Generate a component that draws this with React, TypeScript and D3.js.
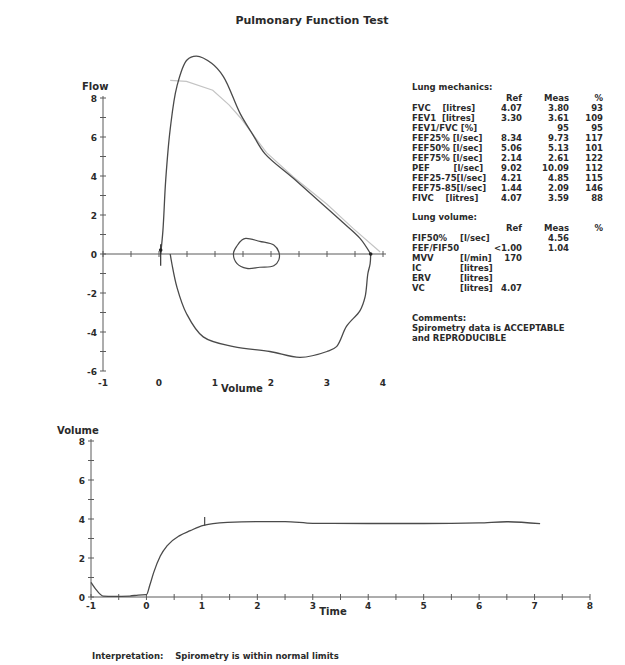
import React from 'react';
import * as d3 from 'd3';

// flow-volume loop, expiratory limb
const expVolume = [0.03, 0.07, 0.12, 0.2, 0.32, 0.5, 0.67, 0.94, 1.15, 1.45, 1.68, 1.89, 2.4, 2.87, 3.29, 3.59, 3.78];
const expFlow = [0, 1.2, 3.8, 6.4, 8.6, 9.95, 10.15, 9.78, 9.1, 7.2, 6.1, 5.15, 3.88, 2.68, 1.6, 0.8, 0];

// inspiratory limb
const insVolume = [3.78, 3.77, 3.73, 3.68, 3.59, 3.35, 3.17, 3.0, 2.52, 1.98, 1.33, 0.79, 0.49, 0.32, 0.23, 0.2];
const insFlow = [0, -0.5, -1.0, -2.2, -2.9, -3.7, -4.75, -5.0, -5.3, -5.0, -4.75, -4.25, -3.05, -1.7, -0.5, 0];

// predicted curve
const predVolume = [0.2, 0.49, 0.96, 1.25, 1.45, 1.92, 2.4, 3.0, 3.47, 3.95];
const predFlow = [8.9, 8.85, 8.4, 7.65, 7.0, 5.2, 3.95, 2.55, 1.3, 0.1];

// tidal loop
const tidalVolume = [1.33, 1.4, 1.48, 1.55, 1.8, 2.05, 2.14, 2.14, 2.05, 1.8, 1.57, 1.39];
const tidalFlow = [0.05, 0.45, 0.72, 0.8, 0.65, 0.46, 0.1, -0.3, -0.6, -0.68, -0.74, -0.48];

// volume-time
const timeT = [-1, -0.9, -0.78, -0.6, -0.3, -0.15, 0, 0.06, 0.13, 0.25, 0.38, 0.6, 0.79, 0.95, 1.05, 1.2, 1.46, 2, 2.5, 3, 4, 5, 6, 6.5, 7.1];
const timeV = [0.75, 0.35, 0.05, 0.03, 0.05, 0.1, 0.12, 0.6, 1.25, 2.1, 2.65, 3.15, 3.4, 3.6, 3.68, 3.76, 3.83, 3.87, 3.87, 3.78, 3.77, 3.77, 3.8, 3.86, 3.76];

// tables
const mechLabels = ['FVC    [litres]', 'FEV1  [litres]', 'FEV1/FVC [%]', 'FEF25% [l/sec]', 'FEF50% [l/sec]', 'FEF75% [l/sec]', 'PEF        [l/sec]', 'FEF25-75[l/sec]', 'FEF75-85[l/sec]', 'FIVC    [litres]'];
const mechRef = ['4.07', '3.30', '', '8.34', '5.06', '2.14', '9.02', '4.21', '1.44', '4.07'];
const mechMeas = ['3.80', '3.61', '95', '9.73', '5.13', '2.61', '10.09', '4.85', '2.09', '3.59'];
const mechPct = ['93', '109', '95', '117', '101', '122', '112', '115', '146', '88'];

const volNames = ['FIF50%', 'FEF/FIF50', 'MVV', 'IC', 'ERV', 'VC'];
const volUnits = ['[l/sec]', '', '[l/min]', '[litres]', '[litres]', '[litres]'];
const volRef = ['', '<1.00', '170', '', '', '4.07'];
const volMeas = ['4.56', '1.04', '', '', '', ''];

const comments = ['Spirometry data is ACCEPTABLE', 'and REPRODUCIBLE'];

const FONT = '"DejaVu Sans", sans-serif';
const INK = '#2a2a2a';

const zip = (xs: number[], ys: number[]) => xs.map((x, i) => [x, ys[i]] as [number, number]);

export default function App() {
  // top chart scales
  const fx = d3.scaleLinear().domain([-1, 4]).range([103, 383]);
  const fy = d3.scaleLinear().domain([-6, 8]).range([371, 98]);
  // bottom chart scales
  const tx = d3.scaleLinear().domain([-1, 8]).range([91, 590]);
  const ty = d3.scaleLinear().domain([0, 8]).range([597, 441]);

  const smooth = d3.line().x(d => fx(d[0])).y(d => fy(d[1])).curve(d3.curveCatmullRom.alpha(0.5));
  const straight = d3.line().x(d => fx(d[0])).y(d => fy(d[1]));
  const closed = d3.line().x(d => fx(d[0])).y(d => fy(d[1])).curve(d3.curveCatmullRomClosed.alpha(0.5));
  const timeLine = d3.line().x(d => tx(d[0])).y(d => ty(d[1])).curve(d3.curveMonotoneX);

  const flowTicks = d3.range(-6, 8.01, 1);
  const volTicks = d3.range(-1, 4.01, 0.5);
  const vTicks = d3.range(0, 8.01, 1);
  const tTicks = d3.range(-1, 8.01, 0.5);

  const tickStyle = { fontFamily: FONT, fontWeight: 700, fontSize: 9, fill: INK };
  const tbl = { fontFamily: FONT, fontWeight: 700, fontSize: 8.5, fill: INK, whiteSpace: 'pre' as const };

  const colRef = 522;
  const colMeas = 569;
  const colPct = 603;

  return (
    <svg width={625} height={665} style={{ position: 'absolute', left: 0, top: 0, background: '#fff' }}>
      <text x={312} y={24} textAnchor="middle" style={{ fontFamily: FONT, fontWeight: 700, fontSize: 11, fill: INK }}>
        Pulmonary Function Test
      </text>

      {/* ---- flow / volume ---- */}
      <g stroke="#5a5a5a" strokeWidth={1}>
        <line x1={fx(-1)} x2={fx(-1)} y1={fy(-6)} y2={fy(8) - 2} />
        <line x1={fx(-1)} x2={fx(4) + 3} y1={fy(0)} y2={fy(0)} />
        {flowTicks.map(t => (
          <line key={'fy' + t} x1={fx(-1) - 3} x2={fx(-1) + 3} y1={fy(t)} y2={fy(t)} />
        ))}
        {volTicks.map(t => (
          <line key={'fx' + t} x1={fx(t)} x2={fx(t)} y1={fy(0) - 3} y2={fy(0) + 3} />
        ))}
      </g>
      {flowTicks.filter(t => t % 2 === 0).map(t => (
        <text key={'fl' + t} x={fx(-1) - 6} y={fy(t) + 3.5} textAnchor="end" style={tickStyle}>{t}</text>
      ))}
      {d3.range(-1, 4.01, 1).map(t => (
        <text key={'vl' + t} x={fx(t)} y={386} textAnchor="middle" style={tickStyle}>{t}</text>
      ))}
      <text x={82} y={90} style={{ ...tickStyle, fontSize: 10 }}>Flow</text>
      <text x={242} y={392} textAnchor="middle" style={{ ...tickStyle, fontSize: 10 }}>Volume</text>

      <path d={straight(zip(predVolume, predFlow)) || ''} fill="none" stroke="#c4c4c4" strokeWidth={1.2} />
      <path d={smooth(zip(expVolume, expFlow)) || ''} fill="none" stroke="#4a4a4a" strokeWidth={1.3} />
      <path d={smooth(zip(insVolume, insFlow)) || ''} fill="none" stroke="#4a4a4a" strokeWidth={1.3} />
      <path d={closed(zip(tidalVolume, tidalFlow)) || ''} fill="none" stroke="#4a4a4a" strokeWidth={1.2} />
      <line x1={fx(0.03)} x2={fx(0.03)} y1={fy(0.5)} y2={fy(-0.6)} stroke="#333" strokeWidth={1.2} />
      <circle cx={fx(0.03)} cy={fy(0.2)} r={1.8} fill="#222" />
      <circle cx={fx(3.78)} cy={fy(0)} r={1.8} fill="#222" />

      {/* ---- table ---- */}
      <text x={412} y={90} style={tbl}>Lung mechanics:</text>
      <text x={colRef} y={101} textAnchor="end" style={tbl}>Ref</text>
      <text x={colMeas} y={101} textAnchor="end" style={tbl}>Meas</text>
      <text x={colPct} y={101} textAnchor="end" style={tbl}>%</text>
      {mechLabels.map((l, i) => (
        <g key={'m' + i}>
          <text x={412} y={111 + i * 10} style={tbl}>{l}</text>
          <text x={colRef} y={111 + i * 10} textAnchor="end" style={tbl}>{mechRef[i]}</text>
          <text x={colMeas} y={111 + i * 10} textAnchor="end" style={tbl}>{mechMeas[i]}</text>
          <text x={colPct} y={111 + i * 10} textAnchor="end" style={tbl}>{mechPct[i]}</text>
        </g>
      ))}
      <text x={412} y={220} style={tbl}>Lung volume:</text>
      <text x={colRef} y={231} textAnchor="end" style={tbl}>Ref</text>
      <text x={colMeas} y={231} textAnchor="end" style={tbl}>Meas</text>
      <text x={colPct} y={231} textAnchor="end" style={tbl}>%</text>
      {volNames.map((l, i) => (
        <g key={'v' + i}>
          <text x={412} y={241 + i * 10} style={tbl}>{l}</text>
          <text x={460} y={241 + i * 10} style={tbl}>{volUnits[i]}</text>
          <text x={colRef} y={241 + i * 10} textAnchor="end" style={tbl}>{volRef[i]}</text>
          <text x={colMeas} y={241 + i * 10} textAnchor="end" style={tbl}>{volMeas[i]}</text>
        </g>
      ))}
      <text x={412} y={321} style={tbl}>Comments:</text>
      {comments.map((c, i) => (
        <text key={'c' + i} x={412} y={331 + i * 10} style={tbl}>{c}</text>
      ))}

      {/* ---- volume / time ---- */}
      <g stroke="#5a5a5a" strokeWidth={1}>
        <line x1={tx(-1)} x2={tx(-1)} y1={ty(0)} y2={ty(8) - 2} />
        <line x1={tx(-1)} x2={tx(8)} y1={ty(0)} y2={ty(0)} />
        {vTicks.map(t => (
          <line key={'ty' + t} x1={tx(-1) - 3} x2={tx(-1) + 3} y1={ty(t)} y2={ty(t)} />
        ))}
        {tTicks.map(t => (
          <line key={'tx' + t} x1={tx(t)} x2={tx(t)} y1={ty(0) - 3} y2={ty(0) + 3} />
        ))}
      </g>
      {vTicks.filter(t => t % 2 === 0).map(t => (
        <text key={'vy' + t} x={tx(-1) - 6} y={ty(t) + 3.5} textAnchor="end" style={tickStyle}>{t}</text>
      ))}
      {d3.range(-1, 8.01, 1).map(t => (
        <text key={'tl' + t} x={tx(t)} y={609} textAnchor="middle" style={tickStyle}>{t}</text>
      ))}
      <text x={57} y={434} style={{ ...tickStyle, fontSize: 10 }}>Volume</text>
      <text x={333} y={615} textAnchor="middle" style={{ ...tickStyle, fontSize: 10 }}>Time</text>
      <path d={timeLine(zip(timeT, timeV)) || ''} fill="none" stroke="#4a4a4a" strokeWidth={1.3} />
      <line x1={tx(1.05)} x2={tx(1.05)} y1={ty(3.66)} y2={ty(4.1)} stroke="#4a4a4a" strokeWidth={1.2} />

      <text x={92} y={659} style={{ ...tbl, fontSize: 8.5 }}>{'Interpretation:    Spirometry is within normal limits'}</text>
    </svg>
  );
}
